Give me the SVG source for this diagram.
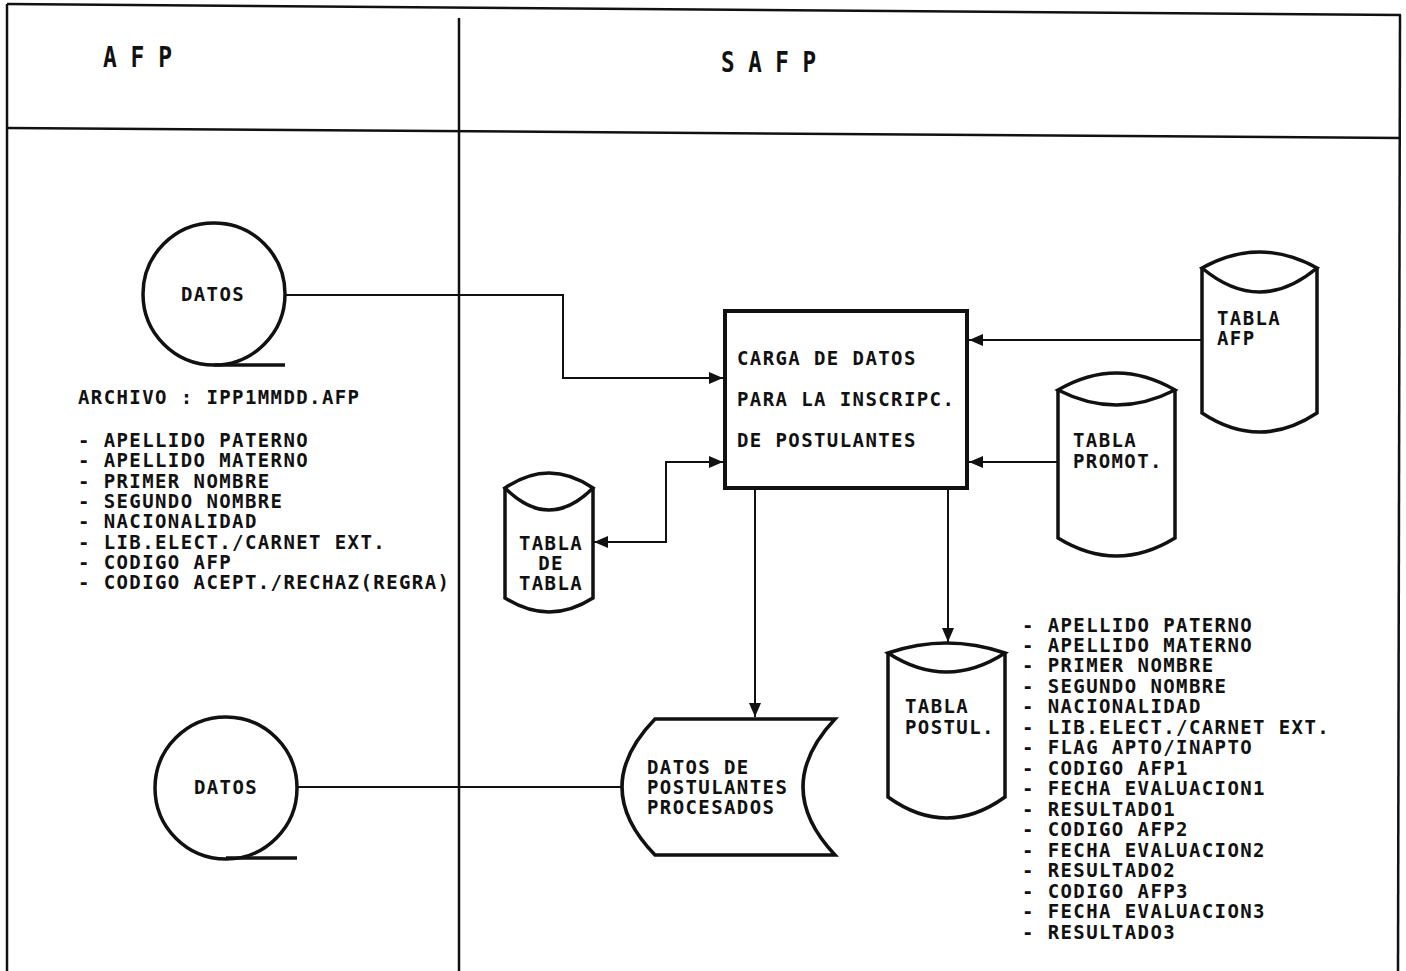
<svg xmlns="http://www.w3.org/2000/svg" width="1406" height="971" viewBox="0 0 1406 971">
<style>
.frame{fill:none;stroke:#111;stroke-width:2.5}
.shape{fill:#fff;stroke:#111;stroke-width:3.5}
.con{fill:none;stroke:#111;stroke-width:2}
.t{font-family:"DejaVu Sans Mono","Liberation Mono",monospace;font-weight:bold;font-size:19px;letter-spacing:1.4px;fill:#111}
.h{font-family:"DejaVu Sans Mono","Liberation Mono",monospace;font-weight:bold;font-size:28px;fill:#111}
</style>
<defs>
<marker id="ah" viewBox="0 0 14 12" refX="14" refY="6" markerWidth="14" markerHeight="12" orient="auto-start-reverse" markerUnits="userSpaceOnUse">
<path d="M0,0 L14,6 L0,12 Z" fill="#111"/>
</marker>
</defs>
<rect width="1406" height="971" fill="#fff"/>
<g id="frame">
<line class="frame" x1="7" y1="4" x2="1401" y2="15"/>
<line class="frame" x1="7" y1="4" x2="7" y2="971"/>
<line class="frame" x1="1400" y1="15" x2="1398" y2="971"/>
<line class="frame" x1="7" y1="128" x2="1400" y2="138"/>
<line class="frame" x1="459" y1="18" x2="459" y2="971"/>
<text class="h" x="103" y="67" textLength="69" lengthAdjust="spacingAndGlyphs">A F P</text>
<text class="h" x="721" y="72" textLength="95" lengthAdjust="spacingAndGlyphs">S A F P</text>
</g>
<g id="connectors">
<polyline class="con" points="285,295 563,295 563,378 723,378" marker-end="url(#ah)"/>
<polyline class="con" points="594,542 666,542 666,462 723,462" marker-start="url(#ah)" marker-end="url(#ah)"/>
<line class="con" x1="1202" y1="340" x2="969" y2="340" marker-end="url(#ah)"/>
<line class="con" x1="1058" y1="462" x2="969" y2="462" marker-end="url(#ah)"/>
<line class="con" x1="755" y1="490" x2="755" y2="717" marker-end="url(#ah)"/>
<line class="con" x1="948" y1="490" x2="948" y2="642" marker-end="url(#ah)"/>
<line class="con" x1="297" y1="787" x2="622" y2="787"/>
</g>
<g id="datos1">
<circle class="shape" cx="214" cy="294" r="71"/>
<line class="shape" x1="214" y1="365" x2="285" y2="365"/>
<text class="t" x="213" y="301" text-anchor="middle">DATOS</text>
</g>
<g id="archivo-afp">
<text class="t" x="78" y="404">ARCHIVO : IPP1MMDD.AFP</text>
<text class="t" x="78" y="447">- APELLIDO PATERNO</text>
<text class="t" x="78" y="467.3">- APELLIDO MATERNO</text>
<text class="t" x="78" y="487.6">- PRIMER NOMBRE</text>
<text class="t" x="78" y="507.9">- SEGUNDO NOMBRE</text>
<text class="t" x="78" y="528.2">- NACIONALIDAD</text>
<text class="t" x="78" y="548.5">- LIB.ELECT./CARNET EXT.</text>
<text class="t" x="78" y="568.8">- CODIGO AFP</text>
<text class="t" x="78" y="589.1">- CODIGO ACEPT./RECHAZ(REGRA)</text>
</g>
<g id="carga">
<rect x="725" y="311" width="242" height="177" fill="#fff" stroke="#111" stroke-width="4"/>
<text class="t" x="737" y="365">CARGA DE DATOS</text>
<text class="t" x="737" y="406">PARA LA INSCRIPC.</text>
<text class="t" x="737" y="447">DE POSTULANTES</text>
</g>
<g id="tabla-afp">
<path class="shape" d="M1202,268 L1202,413 Q1259.5,451 1317,413 L1317,268"/>
<path class="shape" d="M1202,268 Q1259.5,236 1317,268 Q1259.5,316 1202,268 Z"/>
<text class="t" x="1217" y="325">TABLA</text>
<text class="t" x="1217" y="345">AFP</text>
</g>
<g id="tabla-promot">
<path class="shape" d="M1058,390 L1058,538 Q1116.5,574 1175,538 L1175,390"/>
<path class="shape" d="M1058,390 Q1116.5,356 1175,390 Q1116.5,420 1058,390 Z"/>
<text class="t" x="1073" y="447">TABLA</text>
<text class="t" x="1073" y="468">PROMOT.</text>
</g>
<g id="tabla-de-tabla">
<path class="shape" d="M505,488 L505,598 Q549,626 593,598 L593,488"/>
<path class="shape" d="M505,488 Q549,458 593,488 Q549,532 505,488 Z"/>
<text class="t" x="551" y="550" text-anchor="middle">TABLA</text>
<text class="t" x="551" y="570" text-anchor="middle">DE</text>
<text class="t" x="551" y="590" text-anchor="middle">TABLA</text>
</g>
<g id="tabla-postul">
<path class="shape" d="M888,653 L888,797 Q946.5,839 1005,797 L1005,653"/>
<path class="shape" d="M888,653 Q946.5,633 1005,653 Q946.5,691 888,653 Z"/>
<text class="t" x="905" y="713">TABLA</text>
<text class="t" x="905" y="734">POSTUL.</text>
</g>
<g id="campos-postul">
<text class="t" x="1022" y="631.5">- APELLIDO PATERNO</text>
<text class="t" x="1022" y="652">- APELLIDO MATERNO</text>
<text class="t" x="1022" y="672.4">- PRIMER NOMBRE</text>
<text class="t" x="1022" y="692.9">- SEGUNDO NOMBRE</text>
<text class="t" x="1022" y="713.4">- NACIONALIDAD</text>
<text class="t" x="1022" y="733.9">- LIB.ELECT./CARNET EXT.</text>
<text class="t" x="1022" y="754.3">- FLAG APTO/INAPTO</text>
<text class="t" x="1022" y="774.8">- CODIGO AFP1</text>
<text class="t" x="1022" y="795.3">- FECHA EVALUACION1</text>
<text class="t" x="1022" y="815.7">- RESULTADO1</text>
<text class="t" x="1022" y="836.2">- CODIGO AFP2</text>
<text class="t" x="1022" y="856.7">- FECHA EVALUACION2</text>
<text class="t" x="1022" y="877.1">- RESULTADO2</text>
<text class="t" x="1022" y="897.6">- CODIGO AFP3</text>
<text class="t" x="1022" y="918.1">- FECHA EVALUACION3</text>
<text class="t" x="1022" y="938.5">- RESULTADO3</text>
</g>
<g id="datos-postulantes">
<path class="shape" d="M655,719 L835,719 Q771,787 835,855 L655,855 Q589,787 655,719 Z"/>
<text class="t" x="647" y="774">DATOS DE</text>
<text class="t" x="647" y="794">POSTULANTES</text>
<text class="t" x="647" y="814">PROCESADOS</text>
</g>
<g id="datos2">
<circle class="shape" cx="226" cy="788" r="71"/>
<line class="shape" x1="226" y1="858" x2="297" y2="858"/>
<text class="t" x="226" y="794" text-anchor="middle">DATOS</text>
</g>
</svg>
